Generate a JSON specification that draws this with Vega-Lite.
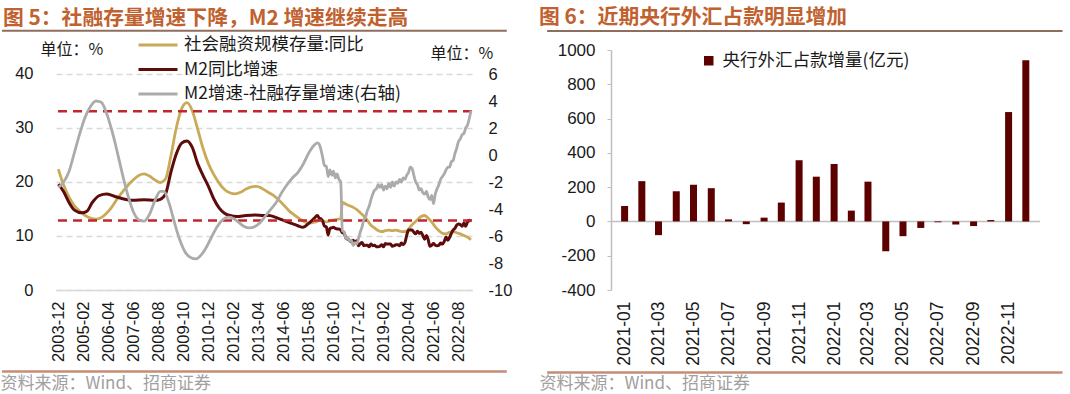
{
  "$schema": "https://vega.github.io/schema/vega-lite/v6.json",
  "padding": {"top": 7, "left": 0, "right": 0, "bottom": 3},
  "spacing": 27,
  "datasets": {
    "sf": [
      {"d":"2003-12-01","v":22.4},{"d":"2004-03-01","v":19.4},{"d":"2004-06-01","v":17.2},{"d":"2004-09-01","v":15.6},{"d":"2004-12-01","v":14.6},{"d":"2005-03-01","v":13.8},{"d":"2005-06-01","v":13.3},{"d":"2005-09-01","v":13.1},{"d":"2005-12-01","v":13.4},{"d":"2006-03-01","v":14.2},{"d":"2006-06-01","v":15.4},{"d":"2006-09-01","v":16.9},{"d":"2006-12-01","v":18.2},{"d":"2007-03-01","v":19.4},{"d":"2007-06-01","v":20.4},{"d":"2007-09-01","v":21.2},{"d":"2007-12-01","v":21.5},{"d":"2008-03-01","v":21.1},{"d":"2008-06-01","v":20.4},{"d":"2008-09-01","v":19.9},{"d":"2008-12-01","v":20.6},{"d":"2009-03-01","v":24.8},{"d":"2009-06-01","v":30.0},{"d":"2009-09-01","v":33.6},{"d":"2009-12-01","v":34.7},{"d":"2010-03-01","v":33.2},{"d":"2010-06-01","v":29.8},{"d":"2010-09-01","v":26.2},{"d":"2010-12-01","v":23.4},{"d":"2011-03-01","v":21.4},{"d":"2011-06-01","v":19.8},{"d":"2011-09-01","v":18.6},{"d":"2011-12-01","v":18.0},{"d":"2012-03-01","v":17.8},{"d":"2012-06-01","v":18.1},{"d":"2012-09-01","v":18.7},{"d":"2012-12-01","v":19.1},{"d":"2013-03-01","v":19.2},{"d":"2013-06-01","v":18.8},{"d":"2013-09-01","v":18.2},{"d":"2013-12-01","v":17.6},{"d":"2014-03-01","v":16.8},{"d":"2014-06-01","v":15.8},{"d":"2014-09-01","v":14.7},{"d":"2014-12-01","v":13.9},{"d":"2015-03-01","v":13.2},{"d":"2015-06-01","v":12.6},{"d":"2015-09-01","v":12.4},{"d":"2015-12-01","v":12.6},{"d":"2016-03-01","v":13.0},{"d":"2016-06-01","v":12.6},{"d":"2016-09-01","v":12.9},{"d":"2016-12-01","v":13.1},{"d":"2017-02-01","v":13.2},{"d":"2017-03-01","v":16.2},{"d":"2017-05-01","v":15.9},{"d":"2017-07-01","v":15.6},{"d":"2017-09-01","v":15.3},{"d":"2017-11-01","v":14.9},{"d":"2018-01-01","v":14.3},{"d":"2018-03-01","v":13.7},{"d":"2018-05-01","v":12.9},{"d":"2018-07-01","v":12.0},{"d":"2018-09-01","v":11.5},{"d":"2018-11-01","v":11.0},{"d":"2019-01-01","v":10.8},{"d":"2019-03-01","v":11.0},{"d":"2019-05-01","v":11.1},{"d":"2019-07-01","v":11.0},{"d":"2019-09-01","v":11.1},{"d":"2019-11-01","v":10.9},{"d":"2020-01-01","v":10.8},{"d":"2020-03-01","v":10.9},{"d":"2020-05-01","v":11.7},{"d":"2020-07-01","v":12.4},{"d":"2020-09-01","v":13.0},{"d":"2020-11-01","v":13.6},{"d":"2021-01-01","v":13.8},{"d":"2021-03-01","v":13.3},{"d":"2021-05-01","v":12.6},{"d":"2021-07-01","v":11.7},{"d":"2021-09-01","v":11.0},{"d":"2021-11-01","v":10.5},{"d":"2022-01-01","v":10.4},{"d":"2022-03-01","v":10.7},{"d":"2022-05-01","v":10.8},{"d":"2022-07-01","v":10.6},{"d":"2022-09-01","v":10.4},{"d":"2022-11-01","v":10.1},{"d":"2023-01-01","v":9.8},{"d":"2023-03-01","v":9.3}
    ],
    "m2": [
      {"d":"2003-12-01","v":19.6},{"d":"2004-03-01","v":18.2},{"d":"2004-06-01","v":16.2},{"d":"2004-09-01","v":14.8},{"d":"2005-01-01","v":14.3},{"d":"2005-04-01","v":14.6},{"d":"2005-07-01","v":16.2},{"d":"2005-11-01","v":17.5},{"d":"2006-03-01","v":17.8},{"d":"2006-07-01","v":17.4},{"d":"2006-12-01","v":16.9},{"d":"2007-06-01","v":16.6},{"d":"2007-12-01","v":16.7},{"d":"2008-06-01","v":16.6},{"d":"2008-09-01","v":16.8},{"d":"2008-12-01","v":17.8},{"d":"2009-03-01","v":21.8},{"d":"2009-06-01","v":25.2},{"d":"2009-09-01","v":27.2},{"d":"2009-12-01","v":27.6},{"d":"2010-03-01","v":26.4},{"d":"2010-06-01","v":23.4},{"d":"2010-09-01","v":21.2},{"d":"2010-12-01","v":19.2},{"d":"2011-03-01","v":16.9},{"d":"2011-06-01","v":15.2},{"d":"2011-09-01","v":14.2},{"d":"2011-12-01","v":13.8},{"d":"2012-04-01","v":13.6},{"d":"2012-09-01","v":13.8},{"d":"2013-02-01","v":13.9},{"d":"2013-07-01","v":13.8},{"d":"2013-10-01","v":13.8},{"d":"2014-02-01","v":13.4},{"d":"2014-06-01","v":12.9},{"d":"2014-10-01","v":12.4},{"d":"2015-02-01","v":11.9},{"d":"2015-05-01","v":11.6},{"d":"2015-08-01","v":12.3},{"d":"2015-11-01","v":13.2},{"d":"2016-01-01","v":13.8},{"d":"2016-02-01","v":13.3},{"d":"2016-03-01","v":13.2},{"d":"2016-04-01","v":12.7},{"d":"2016-05-01","v":11.8},{"d":"2016-06-01","v":11.7},{"d":"2016-07-01","v":10.2},{"d":"2016-08-01","v":11.4},{"d":"2016-09-01","v":11.5},{"d":"2016-10-01","v":11.6},{"d":"2016-11-01","v":11.4},{"d":"2016-12-01","v":11.3},{"d":"2017-01-01","v":11.3},{"d":"2017-02-01","v":11.1},{"d":"2017-03-01","v":10.6},{"d":"2017-04-01","v":10.5},{"d":"2017-05-01","v":9.6},{"d":"2017-06-01","v":9.4},{"d":"2017-07-01","v":9.2},{"d":"2017-08-01","v":8.9},{"d":"2017-09-01","v":9.2},{"d":"2017-10-01","v":8.8},{"d":"2017-11-01","v":9.1},{"d":"2017-12-01","v":8.2},{"d":"2018-01-01","v":8.6},{"d":"2018-02-01","v":8.8},{"d":"2018-03-01","v":8.2},{"d":"2018-04-01","v":8.3},{"d":"2018-05-01","v":8.3},{"d":"2018-06-01","v":8.0},{"d":"2018-07-01","v":8.5},{"d":"2018-08-01","v":8.2},{"d":"2018-09-01","v":8.3},{"d":"2018-10-01","v":8.0},{"d":"2018-11-01","v":8.0},{"d":"2018-12-01","v":8.1},{"d":"2019-01-01","v":8.4},{"d":"2019-02-01","v":8.0},{"d":"2019-03-01","v":8.6},{"d":"2019-04-01","v":8.5},{"d":"2019-05-01","v":8.5},{"d":"2019-06-01","v":8.5},{"d":"2019-07-01","v":8.1},{"d":"2019-08-01","v":8.2},{"d":"2019-09-01","v":8.4},{"d":"2019-10-01","v":8.4},{"d":"2019-11-01","v":8.2},{"d":"2019-12-01","v":8.7},{"d":"2020-01-01","v":8.4},{"d":"2020-02-01","v":8.8},{"d":"2020-03-01","v":10.1},{"d":"2020-04-01","v":11.1},{"d":"2020-05-01","v":11.1},{"d":"2020-06-01","v":11.1},{"d":"2020-07-01","v":10.7},{"d":"2020-08-01","v":10.4},{"d":"2020-09-01","v":10.9},{"d":"2020-10-01","v":10.5},{"d":"2020-11-01","v":10.7},{"d":"2020-12-01","v":10.1},{"d":"2021-01-01","v":9.4},{"d":"2021-02-01","v":10.1},{"d":"2021-03-01","v":9.4},{"d":"2021-04-01","v":8.1},{"d":"2021-05-01","v":8.3},{"d":"2021-06-01","v":8.6},{"d":"2021-07-01","v":8.3},{"d":"2021-08-01","v":8.2},{"d":"2021-09-01","v":8.3},{"d":"2021-10-01","v":8.7},{"d":"2021-11-01","v":8.5},{"d":"2021-12-01","v":9.0},{"d":"2022-01-01","v":9.8},{"d":"2022-02-01","v":9.2},{"d":"2022-03-01","v":9.7},{"d":"2022-04-01","v":10.5},{"d":"2022-05-01","v":11.1},{"d":"2022-06-01","v":11.4},{"d":"2022-07-01","v":12.0},{"d":"2022-08-01","v":12.2},{"d":"2022-09-01","v":12.1},{"d":"2022-10-01","v":11.8},{"d":"2022-11-01","v":12.4},{"d":"2022-12-01","v":11.8},{"d":"2023-01-01","v":12.6},{"d":"2023-02-01","v":12.9},{"d":"2023-03-01","v":12.7}
    ],
    "gap": [
      {"d":"2003-12-01","v":-2.4},{"d":"2004-03-01","v":-2.0},{"d":"2004-06-01","v":-1.2},{"d":"2004-09-01","v":0.2},{"d":"2004-12-01","v":1.6},{"d":"2005-03-01","v":2.8},{"d":"2005-06-01","v":3.6},{"d":"2005-09-01","v":4.0},{"d":"2005-12-01","v":3.9},{"d":"2006-03-01","v":3.1},{"d":"2006-06-01","v":1.8},{"d":"2006-09-01","v":0.2},{"d":"2006-12-01","v":-1.5},{"d":"2007-03-01","v":-3.0},{"d":"2007-06-01","v":-4.2},{"d":"2007-09-01","v":-4.8},{"d":"2007-12-01","v":-4.9},{"d":"2008-03-01","v":-4.4},{"d":"2008-06-01","v":-3.4},{"d":"2008-09-01","v":-2.7},{"d":"2008-11-01","v":-2.7},{"d":"2009-02-01","v":-3.6},{"d":"2009-05-01","v":-5.0},{"d":"2009-08-01","v":-6.3},{"d":"2009-11-01","v":-7.2},{"d":"2010-02-01","v":-7.6},{"d":"2010-05-01","v":-7.7},{"d":"2010-08-01","v":-7.4},{"d":"2010-11-01","v":-6.8},{"d":"2011-02-01","v":-6.0},{"d":"2011-05-01","v":-5.3},{"d":"2011-08-01","v":-4.8},{"d":"2011-11-01","v":-4.6},{"d":"2012-02-01","v":-4.7},{"d":"2012-05-01","v":-5.0},{"d":"2012-08-01","v":-5.3},{"d":"2012-11-01","v":-5.4},{"d":"2013-02-01","v":-5.3},{"d":"2013-05-01","v":-5.0},{"d":"2013-08-01","v":-4.5},{"d":"2013-11-01","v":-4.0},{"d":"2014-02-01","v":-3.5},{"d":"2014-05-01","v":-2.8},{"d":"2014-08-01","v":-2.2},{"d":"2014-11-01","v":-1.7},{"d":"2015-02-01","v":-1.3},{"d":"2015-05-01","v":-0.7},{"d":"2015-08-01","v":0.1},{"d":"2015-11-01","v":0.7},{"d":"2016-01-01","v":0.9},{"d":"2016-02-01","v":0.8},{"d":"2016-03-01","v":0.4},{"d":"2016-04-01","v":-0.2},{"d":"2016-05-01","v":-0.8},{"d":"2016-06-01","v":-0.8},{"d":"2016-07-01","v":-1.6},{"d":"2016-08-01","v":-1.1},{"d":"2016-09-01","v":-1.5},{"d":"2016-10-01","v":-1.2},{"d":"2016-11-01","v":-1.7},{"d":"2016-12-01","v":-1.4},{"d":"2017-01-01","v":-1.8},{"d":"2017-02-01","v":-2.0},{"d":"2017-03-01","v":-5.6},{"d":"2017-04-01","v":-5.7},{"d":"2017-05-01","v":-6.2},{"d":"2017-06-01","v":-6.1},{"d":"2017-07-01","v":-6.4},{"d":"2017-08-01","v":-6.3},{"d":"2017-09-01","v":-6.7},{"d":"2017-10-01","v":-6.5},{"d":"2017-11-01","v":-6.6},{"d":"2017-12-01","v":-6.2},{"d":"2018-01-01","v":-5.7},{"d":"2018-02-01","v":-5.3},{"d":"2018-03-01","v":-4.8},{"d":"2018-04-01","v":-4.6},{"d":"2018-05-01","v":-4.1},{"d":"2018-06-01","v":-3.8},{"d":"2018-07-01","v":-3.3},{"d":"2018-08-01","v":-2.9},{"d":"2018-09-01","v":-2.6},{"d":"2018-10-01","v":-2.5},{"d":"2018-11-01","v":-2.2},{"d":"2018-12-01","v":-2.4},{"d":"2019-01-01","v":-2.2},{"d":"2019-02-01","v":-2.6},{"d":"2019-03-01","v":-2.3},{"d":"2019-04-01","v":-2.5},{"d":"2019-05-01","v":-2.1},{"d":"2019-06-01","v":-2.4},{"d":"2019-07-01","v":-2.0},{"d":"2019-08-01","v":-2.3},{"d":"2019-09-01","v":-2.0},{"d":"2019-10-01","v":-2.1},{"d":"2019-11-01","v":-1.8},{"d":"2019-12-01","v":-2.0},{"d":"2020-01-01","v":-1.7},{"d":"2020-02-01","v":-1.8},{"d":"2020-03-01","v":-1.5},{"d":"2020-04-01","v":-1.3},{"d":"2020-05-01","v":-0.9},{"d":"2020-06-01","v":-1.0},{"d":"2020-07-01","v":-1.5},{"d":"2020-08-01","v":-2.0},{"d":"2020-09-01","v":-2.2},{"d":"2020-10-01","v":-2.6},{"d":"2020-11-01","v":-2.5},{"d":"2020-12-01","v":-2.8},{"d":"2021-01-01","v":-2.9},{"d":"2021-02-01","v":-2.7},{"d":"2021-03-01","v":-3.1},{"d":"2021-04-01","v":-3.3},{"d":"2021-05-01","v":-3.0},{"d":"2021-06-01","v":-3.6},{"d":"2021-07-01","v":-2.9},{"d":"2021-08-01","v":-2.5},{"d":"2021-09-01","v":-2.2},{"d":"2021-10-01","v":-1.8},{"d":"2021-11-01","v":-1.6},{"d":"2021-12-01","v":-1.4},{"d":"2022-01-01","v":-1.1},{"d":"2022-02-01","v":-0.9},{"d":"2022-03-01","v":-0.9},{"d":"2022-04-01","v":-0.5},{"d":"2022-05-01","v":-0.4},{"d":"2022-06-01","v":0.1},{"d":"2022-07-01","v":0.5},{"d":"2022-08-01","v":1.0},{"d":"2022-09-01","v":1.2},{"d":"2022-10-01","v":1.5},{"d":"2022-11-01","v":1.6},{"d":"2022-12-01","v":2.0},{"d":"2023-01-01","v":2.2},{"d":"2023-02-01","v":2.7},{"d":"2023-03-01","v":3.3}
    ],
    "fx": [
      {"d":"2021-01-16","v":90},{"d":"2021-02-15","v":235},{"d":"2021-03-16","v":-80},{"d":"2021-04-16","v":176},{"d":"2021-05-16","v":214},{"d":"2021-06-16","v":194},{"d":"2021-07-16","v":12},{"d":"2021-08-16","v":-16},{"d":"2021-09-16","v":22},{"d":"2021-10-16","v":110},{"d":"2021-11-16","v":357},{"d":"2021-12-16","v":261},{"d":"2022-01-16","v":335},{"d":"2022-02-15","v":63},{"d":"2022-03-16","v":232},{"d":"2022-04-16","v":-174},{"d":"2022-05-16","v":-86},{"d":"2022-06-16","v":-38},{"d":"2022-07-16","v":-5},{"d":"2022-08-16","v":-18},{"d":"2022-09-16","v":-27},{"d":"2022-10-16","v":8},{"d":"2022-11-16","v":638},{"d":"2022-12-16","v":940}
    ],
    "lvl": [{"v": 33.1}, {"v": 12.85}],
    "one": [{}]
  },
  "hconcat": [
    {
      "width": 416,
      "height": 240,
      "title": {"text": "图 5：社融存量增速下降，M2 增速继续走高", "anchor": "start", "frame": "group", "dx": -53, "offset": 0, "font": "Noto Sans CJK SC", "fontSize": 20.8, "fontWeight": "bold", "color": "#C0612F"},
      "layer": [
        {
          "layer": [
            {
              "data": {"name": "sf"},
              "mark": {"type": "line", "strokeWidth": 2.8, "interpolate": "monotone"},
              "encoding": {
                "x": {"field": "d", "type": "temporal",
                  "scale": {"type": "utc", "nice": false, "domain": [{"year": 2003, "month": 10, "date": 22, "utc": true}, {"year": 2023, "month": 3, "date": 19, "utc": true}]},
                  "axis": {"values": [
                    {"year": 2003, "month": 12, "date": 1, "utc": true}, {"year": 2005, "month": 2, "date": 1, "utc": true}, {"year": 2006, "month": 4, "date": 1, "utc": true}, {"year": 2007, "month": 6, "date": 1, "utc": true}, {"year": 2008, "month": 8, "date": 1, "utc": true}, {"year": 2009, "month": 10, "date": 1, "utc": true}, {"year": 2010, "month": 12, "date": 1, "utc": true}, {"year": 2012, "month": 2, "date": 1, "utc": true}, {"year": 2013, "month": 4, "date": 1, "utc": true}, {"year": 2014, "month": 6, "date": 1, "utc": true}, {"year": 2015, "month": 8, "date": 1, "utc": true}, {"year": 2016, "month": 10, "date": 1, "utc": true}, {"year": 2017, "month": 12, "date": 1, "utc": true}, {"year": 2019, "month": 2, "date": 1, "utc": true}, {"year": 2020, "month": 4, "date": 1, "utc": true}, {"year": 2021, "month": 6, "date": 1, "utc": true}, {"year": 2022, "month": 8, "date": 1, "utc": true}],
                    "tickCount": 100, "format": "%Y-%m", "labelAngle": 270, "labelFontSize": 16.5, "labelPadding": 11, "labelFlush": false, "labelOverlap": false,
                    "ticks": false, "domain": true, "domainColor": "#D9D9D9", "domainWidth": 1.5, "grid": false,
                    "title": "资料来源：Wind、招商证券", "titleX": -56, "titleY": 93, "titleAlign": "left", "titleBaseline": "middle", "titleColor": "#A0A0A0", "titleFontSize": 17, "titleFontWeight": "normal", "titleFont": "Noto Sans CJK SC"}},
                "y": {"field": "v", "type": "quantitative",
                  "scale": {"domain": [0, 44.444], "nice": false},
                  "axis": {"orient": "left", "values": [0, 10, 20, 30, 40], "tickCount": 100, "format": "d", "labelFontSize": 16.5, "labelPadding": 23, "ticks": false, "domain": false,
                    "grid": true, "gridDash": [6, 4], "gridColor": "#D9D9D9", "gridWidth": 1.3,
                    "title": "单位：%", "titleAngle": 0, "titleX": -16, "titleY": -1, "titleAlign": "left", "titleBaseline": "middle", "titleFontSize": 16, "titleFontWeight": "normal", "titleColor": "#1a1a1a", "titleFont": "Noto Sans CJK SC"}},
                "color": {"datum": "社会融资规模存量:同比",
                  "scale": {"domain": ["社会融资规模存量:同比", "M2同比增速", "M2增速-社融存量增速(右轴)"], "range": ["#C9AA58", "#5E0B0B", "#ABABAB"]},
                  "legend": {"orient": "none", "legendX": 81, "legendY": -17, "direction": "vertical", "title": null, "symbolType": "stroke", "symbolSize": 1521, "symbolStrokeWidth": 3, "labelFontSize": 17.5, "labelFont": "Noto Sans CJK SC", "labelColor": "#1a1a1a", "labelOffset": 5, "labelLimit": 500, "clipHeight": 24, "rowPadding": 0.5}}
              }
            },
            {
              "data": {"name": "m2"},
              "mark": {"type": "line", "strokeWidth": 3, "interpolate": "monotone"},
              "encoding": {
                "x": {"field": "d", "type": "temporal",
                  "scale": {"type": "utc", "nice": false, "domain": [{"year": 2003, "month": 10, "date": 22, "utc": true}, {"year": 2023, "month": 3, "date": 19, "utc": true}]}},
                "y": {"field": "v", "type": "quantitative", "scale": {"domain": [0, 44.444], "nice": false}},
                "color": {"datum": "M2同比增速", "legend": null}
              }
            },
            {
              "data": {"name": "lvl"},
              "mark": {"type": "rule", "color": "#C0282D", "strokeWidth": 2.5, "strokeDash": [9, 6]},
              "encoding": {
                "y": {"field": "v", "type": "quantitative", "scale": {"domain": [0, 44.444], "nice": false}}
              }
            },
            {
              "data": {"name": "one"},
              "mark": {"type": "rule", "color": "#8F6E5E", "strokeWidth": 2},
              "encoding": {
                "x": {"datum": {"year": 2001, "month": 4, "date": 15, "utc": true}, "type": "temporal",
                  "scale": {"type": "utc", "nice": false, "domain": [{"year": 2003, "month": 10, "date": 22, "utc": true}, {"year": 2023, "month": 3, "date": 19, "utc": true}]}},
                "x2": {"datum": {"year": 2024, "month": 11, "date": 1, "utc": true}},
                "y": {"datum": 48.0, "type": "quantitative", "scale": {"domain": [0, 44.444], "nice": false}}
              }
            },
            {
              "data": {"name": "one"},
              "mark": {"type": "rule", "color": "#C48C74", "strokeWidth": 2.5},
              "encoding": {
                "x": {"datum": {"year": 2001, "month": 4, "date": 15, "utc": true}, "type": "temporal",
                  "scale": {"type": "utc", "nice": false, "domain": [{"year": 2003, "month": 10, "date": 22, "utc": true}, {"year": 2023, "month": 3, "date": 19, "utc": true}]}},
                "x2": {"datum": {"year": 2024, "month": 11, "date": 1, "utc": true}},
                "y": {"datum": -15.1, "type": "quantitative", "scale": {"domain": [0, 44.444], "nice": false}}
              }
            }
          ]
        },
        {
          "data": {"name": "gap"},
          "mark": {"type": "line", "strokeWidth": 2.8, "interpolate": "monotone"},
          "encoding": {
            "x": {"field": "d", "type": "temporal",
              "scale": {"type": "utc", "nice": false, "domain": [{"year": 2003, "month": 10, "date": 22, "utc": true}, {"year": 2023, "month": 3, "date": 19, "utc": true}]}},
            "y": {"field": "v", "type": "quantitative",
              "scale": {"domain": [-10, 7.778], "nice": false, "zero": false},
              "axis": {"orient": "right", "values": [-10, -8, -6, -4, -2, 0, 2, 4, 6], "tickCount": 100, "format": "d", "labelExpr": "replace(datum.label, '\u2212', '-')", "labelFontSize": 16.5, "labelPadding": 16, "ticks": false, "domain": false, "grid": false,
                "title": "单位：%", "titleAngle": 0, "titleX": -42, "titleY": 3, "titleAlign": "left", "titleBaseline": "middle", "titleFontSize": 16, "titleFontWeight": "normal", "titleColor": "#1a1a1a", "titleFont": "Noto Sans CJK SC"}},
            "color": {"datum": "M2增速-社融存量增速(右轴)", "legend": null}
          }
        }
      ],
      "resolve": {"scale": {"y": "independent"}}
    },
    {
      "width": 429,
      "height": 240,
      "title": {"text": "图 6：近期央行外汇占款明显增加", "anchor": "start", "frame": "group", "dx": -72, "offset": 1, "font": "Noto Sans CJK SC", "fontSize": 20.8, "fontWeight": "bold", "color": "#C0612F"},
      "layer": [
        {
          "data": {"name": "one"},
          "mark": {"type": "rule", "color": "#BFBFBF", "strokeWidth": 1.5},
          "encoding": {
            "y": {"datum": 0, "type": "quantitative", "scale": {"domain": [-400, 1000], "nice": false}}
          }
        },
        {
          "data": {"name": "fx"},
          "mark": {"type": "bar", "width": 7},
          "encoding": {
            "x": {"field": "d", "type": "temporal",
              "scale": {"type": "utc", "nice": false, "domain": [{"year": 2021, "month": 1, "date": 1, "utc": true}, {"year": 2023, "month": 1, "date": 1, "utc": true}]},
              "axis": {"values": [
                {"year": 2021, "month": 1, "date": 16, "utc": true}, {"year": 2021, "month": 3, "date": 16, "utc": true}, {"year": 2021, "month": 5, "date": 16, "utc": true}, {"year": 2021, "month": 7, "date": 16, "utc": true}, {"year": 2021, "month": 9, "date": 16, "utc": true}, {"year": 2021, "month": 11, "date": 16, "utc": true}, {"year": 2022, "month": 1, "date": 16, "utc": true}, {"year": 2022, "month": 3, "date": 16, "utc": true}, {"year": 2022, "month": 5, "date": 16, "utc": true}, {"year": 2022, "month": 7, "date": 16, "utc": true}, {"year": 2022, "month": 9, "date": 16, "utc": true}, {"year": 2022, "month": 11, "date": 16, "utc": true}],
                "tickCount": 100, "format": "%Y-%m", "labelAngle": 270, "labelFontSize": 17.5, "labelPadding": 11, "labelFlush": false, "labelOverlap": false,
                "ticks": false, "domain": false, "grid": false,
                "title": "资料来源：Wind、招商证券", "titleX": -72, "titleY": 93, "titleAlign": "left", "titleBaseline": "middle", "titleColor": "#A0A0A0", "titleFontSize": 17, "titleFontWeight": "normal", "titleFont": "Noto Sans CJK SC"}},
            "y": {"field": "v", "type": "quantitative",
              "scale": {"domain": [-400, 1000], "nice": false},
              "axis": {"values": [-400, -200, 0, 200, 400, 600, 800, 1000], "tickCount": 100, "format": "d", "labelExpr": "replace(datum.label, '\u2212', '-')", "labelFontSize": 17, "labelPadding": 12, "ticks": true, "tickSize": 4, "tickColor": "#BFBFBF", "domain": true, "domainColor": "#BFBFBF", "domainWidth": 1.5, "grid": false, "title": null}},
            "color": {"datum": "央行外汇占款增量(亿元)",
              "scale": {"domain": ["央行外汇占款增量(亿元)"], "range": ["#5C0000"]},
              "legend": {"orient": "none", "legendX": 89, "legendY": 2, "title": null, "symbolType": "square", "symbolSize": 90, "symbolStrokeWidth": 0, "labelFontSize": 17.5, "labelFont": "Noto Sans CJK SC", "labelColor": "#1a1a1a", "labelOffset": 5, "labelLimit": 500}}
          }
        },
        {
          "data": {"name": "one"},
          "mark": {"type": "rule", "color": "#8F6E5E", "strokeWidth": 2},
          "encoding": {
            "x": {"datum": {"year": 2020, "month": 9, "date": 3, "utc": true}, "type": "temporal",
              "scale": {"type": "utc", "nice": false, "domain": [{"year": 2021, "month": 1, "date": 1, "utc": true}, {"year": 2023, "month": 1, "date": 1, "utc": true}]}},
            "x2": {"datum": {"year": 2023, "month": 2, "date": 18, "utc": true}},
            "y": {"datum": 1111, "type": "quantitative", "scale": {"domain": [-400, 1000], "nice": false}}
          }
        },
        {
          "data": {"name": "one"},
          "mark": {"type": "rule", "color": "#C48C74", "strokeWidth": 2.5},
          "encoding": {
            "x": {"datum": {"year": 2020, "month": 9, "date": 3, "utc": true}, "type": "temporal",
              "scale": {"type": "utc", "nice": false, "domain": [{"year": 2021, "month": 1, "date": 1, "utc": true}, {"year": 2023, "month": 1, "date": 1, "utc": true}]}},
            "x2": {"datum": {"year": 2023, "month": 2, "date": 18, "utc": true}},
            "y": {"datum": -881, "type": "quantitative", "scale": {"domain": [-400, 1000], "nice": false}}
          }
        }
      ]
    }
  ],
  "resolve": {"scale": {"x": "independent", "y": "independent", "color": "independent"}, "legend": {"color": "independent"}},
  "config": {
    "view": {"stroke": null},
    "font": "Liberation Sans",
    "axis": {"labelFont": "Liberation Sans", "labelColor": "#1a1a1a"},
    "legend": {"labelFont": "Noto Sans CJK SC"}
  }
}
